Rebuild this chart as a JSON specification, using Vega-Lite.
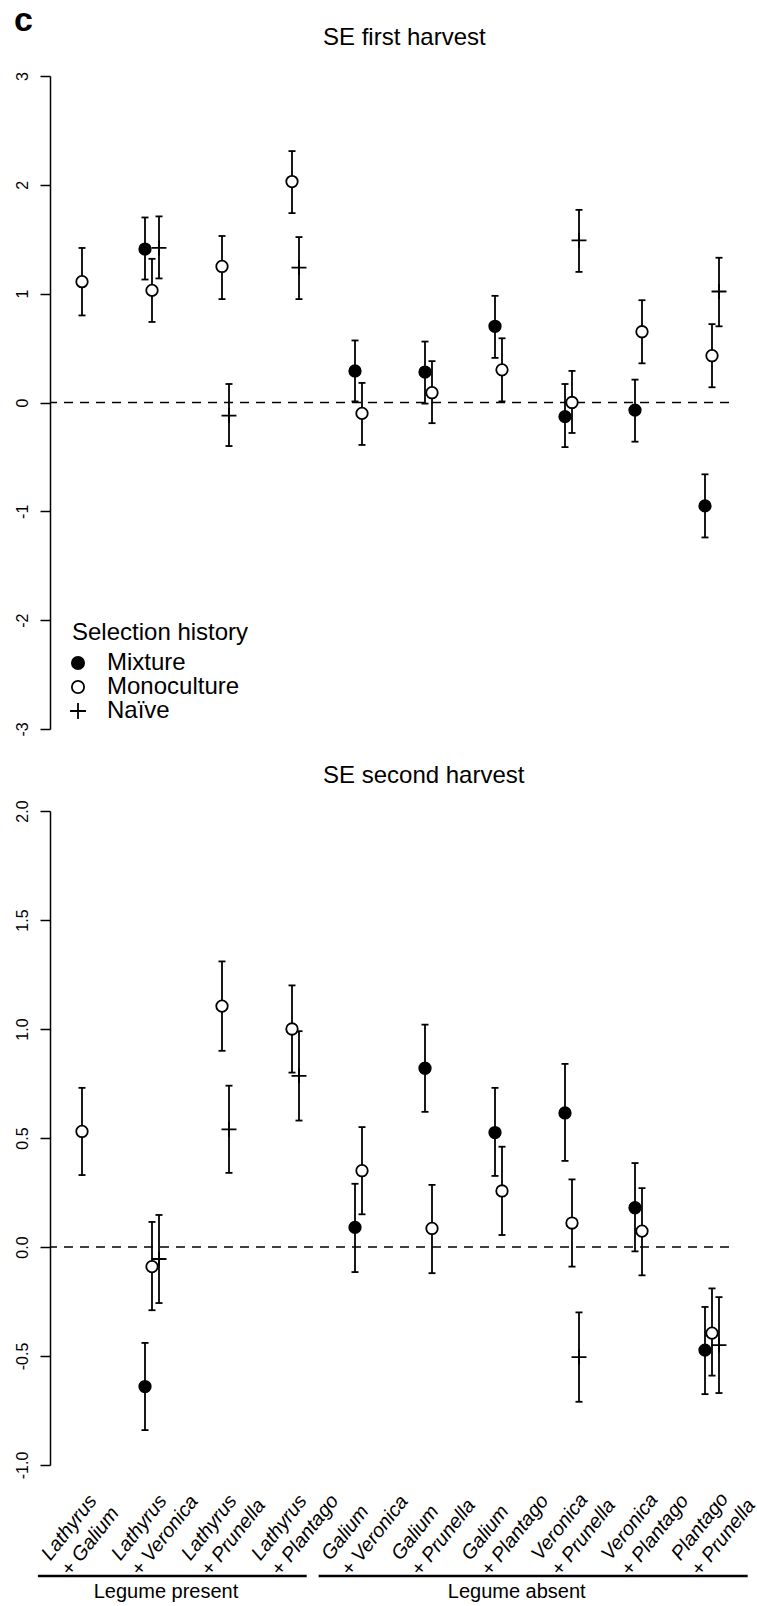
{
  "$schema": "https://vega.github.io/schema/vega-lite/v6.json",
  "background": "white",
  "padding": {"left": 14, "top": 3, "right": 0, "bottom": 0},
  "title": {"text": "c", "anchor": "start", "frame": "bounds", "fontSize": 34, "fontWeight": "bold", "baseline": "alphabetic", "offset": -39},
  "config": {
    "font": "Liberation Sans",
    "view": {"stroke": null},
    "title": {"fontSize": 24, "fontWeight": "normal", "color": "black", "font": "Liberation Sans"},
    "axis": {"labelColor": "black", "domainColor": "black", "tickColor": "black", "grid": false, "labelFont": "Liberation Sans"}
  },
  "datasets": {
    "est": [
      {"harvest": "first", "combo": "Lathyrus + Galium", "selection": "Monoculture", "est": 1.11, "lo": 0.80, "hi": 1.42},
      {"harvest": "first", "combo": "Lathyrus + Veronica", "selection": "Mixture", "est": 1.41, "lo": 1.13, "hi": 1.70},
      {"harvest": "first", "combo": "Lathyrus + Veronica", "selection": "Monoculture", "est": 1.03, "lo": 0.74, "hi": 1.32},
      {"harvest": "first", "combo": "Lathyrus + Veronica", "selection": "Naïve", "est": 1.42, "lo": 1.14, "hi": 1.71},
      {"harvest": "first", "combo": "Lathyrus + Prunella", "selection": "Monoculture", "est": 1.25, "lo": 0.95, "hi": 1.53},
      {"harvest": "first", "combo": "Lathyrus + Prunella", "selection": "Naïve", "est": -0.12, "lo": -0.40, "hi": 0.17},
      {"harvest": "first", "combo": "Lathyrus + Plantago", "selection": "Monoculture", "est": 2.03, "lo": 1.74, "hi": 2.31},
      {"harvest": "first", "combo": "Lathyrus + Plantago", "selection": "Naïve", "est": 1.24, "lo": 0.95, "hi": 1.52},
      {"harvest": "first", "combo": "Galium + Veronica", "selection": "Mixture", "est": 0.29, "lo": 0.01, "hi": 0.57},
      {"harvest": "first", "combo": "Galium + Veronica", "selection": "Monoculture", "est": -0.10, "lo": -0.39, "hi": 0.18},
      {"harvest": "first", "combo": "Galium + Prunella", "selection": "Mixture", "est": 0.28, "lo": -0.01, "hi": 0.56},
      {"harvest": "first", "combo": "Galium + Prunella", "selection": "Monoculture", "est": 0.09, "lo": -0.19, "hi": 0.38},
      {"harvest": "first", "combo": "Galium + Plantago", "selection": "Mixture", "est": 0.70, "lo": 0.41, "hi": 0.98},
      {"harvest": "first", "combo": "Galium + Plantago", "selection": "Monoculture", "est": 0.30, "lo": 0.01, "hi": 0.59},
      {"harvest": "first", "combo": "Veronica + Prunella", "selection": "Mixture", "est": -0.13, "lo": -0.41, "hi": 0.17},
      {"harvest": "first", "combo": "Veronica + Prunella", "selection": "Monoculture", "est": 0.00, "lo": -0.28, "hi": 0.29},
      {"harvest": "first", "combo": "Veronica + Prunella", "selection": "Naïve", "est": 1.49, "lo": 1.20, "hi": 1.77},
      {"harvest": "first", "combo": "Veronica + Plantago", "selection": "Mixture", "est": -0.07, "lo": -0.36, "hi": 0.21},
      {"harvest": "first", "combo": "Veronica + Plantago", "selection": "Monoculture", "est": 0.65, "lo": 0.36, "hi": 0.94},
      {"harvest": "first", "combo": "Plantago + Prunella", "selection": "Mixture", "est": -0.95, "lo": -1.24, "hi": -0.66},
      {"harvest": "first", "combo": "Plantago + Prunella", "selection": "Monoculture", "est": 0.43, "lo": 0.14, "hi": 0.72},
      {"harvest": "first", "combo": "Plantago + Prunella", "selection": "Naïve", "est": 1.02, "lo": 0.70, "hi": 1.33},
      {"harvest": "second", "combo": "Lathyrus + Galium", "selection": "Monoculture", "est": 0.53, "lo": 0.33, "hi": 0.73},
      {"harvest": "second", "combo": "Lathyrus + Veronica", "selection": "Mixture", "est": -0.64, "lo": -0.84, "hi": -0.44},
      {"harvest": "second", "combo": "Lathyrus + Veronica", "selection": "Monoculture", "est": -0.09, "lo": -0.29, "hi": 0.115},
      {"harvest": "second", "combo": "Lathyrus + Veronica", "selection": "Naïve", "est": -0.055, "lo": -0.257, "hi": 0.147},
      {"harvest": "second", "combo": "Lathyrus + Prunella", "selection": "Monoculture", "est": 1.105, "lo": 0.90, "hi": 1.31},
      {"harvest": "second", "combo": "Lathyrus + Prunella", "selection": "Naïve", "est": 0.54, "lo": 0.34, "hi": 0.74},
      {"harvest": "second", "combo": "Lathyrus + Plantago", "selection": "Monoculture", "est": 1.00, "lo": 0.80, "hi": 1.20},
      {"harvest": "second", "combo": "Lathyrus + Plantago", "selection": "Naïve", "est": 0.785, "lo": 0.58, "hi": 0.99},
      {"harvest": "second", "combo": "Galium + Veronica", "selection": "Mixture", "est": 0.09, "lo": -0.115, "hi": 0.29},
      {"harvest": "second", "combo": "Galium + Veronica", "selection": "Monoculture", "est": 0.35, "lo": 0.15, "hi": 0.55},
      {"harvest": "second", "combo": "Galium + Prunella", "selection": "Mixture", "est": 0.82, "lo": 0.62, "hi": 1.02},
      {"harvest": "second", "combo": "Galium + Prunella", "selection": "Monoculture", "est": 0.085, "lo": -0.12, "hi": 0.285},
      {"harvest": "second", "combo": "Galium + Plantago", "selection": "Mixture", "est": 0.525, "lo": 0.326, "hi": 0.73},
      {"harvest": "second", "combo": "Galium + Plantago", "selection": "Monoculture", "est": 0.257, "lo": 0.055, "hi": 0.46},
      {"harvest": "second", "combo": "Veronica + Prunella", "selection": "Mixture", "est": 0.615, "lo": 0.395, "hi": 0.84},
      {"harvest": "second", "combo": "Veronica + Prunella", "selection": "Monoculture", "est": 0.11, "lo": -0.09, "hi": 0.31},
      {"harvest": "second", "combo": "Veronica + Prunella", "selection": "Naïve", "est": -0.505, "lo": -0.71, "hi": -0.30},
      {"harvest": "second", "combo": "Veronica + Plantago", "selection": "Mixture", "est": 0.18, "lo": -0.02, "hi": 0.385},
      {"harvest": "second", "combo": "Veronica + Plantago", "selection": "Monoculture", "est": 0.073, "lo": -0.13, "hi": 0.27},
      {"harvest": "second", "combo": "Plantago + Prunella", "selection": "Mixture", "est": -0.473, "lo": -0.675, "hi": -0.275},
      {"harvest": "second", "combo": "Plantago + Prunella", "selection": "Monoculture", "est": -0.395, "lo": -0.59, "hi": -0.19},
      {"harvest": "second", "combo": "Plantago + Prunella", "selection": "Naïve", "est": -0.45, "lo": -0.67, "hi": -0.23}
    ],
    "groups": [
      {"group": "Legume present", "from": 0.37, "to": 4.21, "at": 2.2},
      {"group": "Legume absent", "from": 4.38, "to": 10.51, "at": 7.21}
    ]
  },
  "bounds": "flush",
  "spacing": 82,
  "vconcat": [
    {
      "width": 679,
      "height": 653,
      "title": {"text": "SE first harvest", "anchor": "start", "frame": "group", "dx": 273, "offset": 3, "baseline": "alphabetic"},
      "layer": [
        {
          "data": {"values": [{}]},
          "mark": {"type": "rule", "strokeDash": [9, 7], "strokeWidth": 1.5, "color": "black"},
          "encoding": {
            "y": {"datum": 0, "type": "quantitative", "scale": {"domain": [-3, 3], "nice": false, "zero": false},
              "axis": {"title": null, "values": [-3, -2, -1, 0, 1, 2, 3], "labelExpr": "replace(format(datum.value, 'd'), '\u2212', '-')", "labelAngle": -90, "labelAlign": "center", "labelBaseline": "alphabetic", "labelFontSize": 16, "labelPadding": 13, "tickSize": 10, "tickWidth": 1.5, "domainWidth": 1.5, "labelFlush": false, "labelOverlap": false, "labelBound": false}}
          }
        },
        {
          "data": {"name": "est"},
          "transform": [{"filter": "datum.harvest === 'first'"}],
          "encoding": {
            "x": {"field": "combo", "type": "nominal", "axis": null, "sort": ["Lathyrus + Galium", "Lathyrus + Veronica", "Lathyrus + Prunella", "Lathyrus + Plantago", "Galium + Veronica", "Galium + Prunella", "Galium + Plantago", "Veronica + Prunella", "Veronica + Plantago", "Plantago + Prunella"], "scale": {"type": "point", "padding": 0.35, "align": 0.653}},
            "xOffset": {"field": "selection", "type": "nominal", "scale": {"type": "point", "domain": ["Mixture", "Monoculture", "Naïve"], "range": [-7, 7], "padding": 0}}
          },
          "layer": [
            {
              "mark": {"type": "rule", "strokeWidth": 1.8, "color": "black"},
              "encoding": {"y": {"field": "lo", "type": "quantitative", "title": null}, "y2": {"field": "hi"}}
            },
            {
              "mark": {"type": "tick", "size": 7, "thickness": 1.8, "color": "black", "opacity": 1},
              "encoding": {"y": {"field": "lo", "type": "quantitative", "title": null}}
            },
            {
              "mark": {"type": "tick", "size": 7, "thickness": 1.8, "color": "black", "opacity": 1},
              "encoding": {"y": {"field": "hi", "type": "quantitative", "title": null}}
            },
            {
              "mark": {"type": "point", "filled": true, "size": 132, "strokeWidth": 1.8, "opacity": 1},
              "encoding": {
                "y": {"field": "est", "type": "quantitative", "title": null},
                "shape": {"field": "selection", "type": "nominal", "scale": {"domain": ["Mixture", "Monoculture", "Naïve"], "range": ["circle", "circle", "M-1.3,0H1.3M0,-1.3V1.3"]},
                  "legend": {"title": "Selection history", "orient": "none", "legendX": 22, "legendY": 545, "titleFontSize": 24, "titleFontWeight": "normal", "titleColor": "black", "labelFontSize": 24, "labelColor": "black", "symbolSize": 150, "symbolStrokeWidth": 1.8, "symbolOffset": -6, "labelOffset": 17, "rowPadding": 0, "titlePadding": 6, "padding": 0}},
                "fill": {"field": "selection", "type": "nominal", "scale": {"domain": ["Mixture", "Monoculture", "Naïve"], "range": ["black", "white", "transparent"]},
                  "legend": {"title": "Selection history", "orient": "none", "legendX": 22, "legendY": 545, "titleFontSize": 24, "titleFontWeight": "normal", "titleColor": "black", "labelFontSize": 24, "labelColor": "black", "symbolSize": 150, "symbolStrokeWidth": 1.8, "symbolOffset": -6, "labelOffset": 17, "rowPadding": 0, "titlePadding": 6, "padding": 0}},
                "stroke": {"field": "selection", "type": "nominal", "scale": {"domain": ["Mixture", "Monoculture", "Naïve"], "range": ["black", "black", "black"]},
                  "legend": {"title": "Selection history", "orient": "none", "legendX": 22, "legendY": 545, "titleFontSize": 24, "titleFontWeight": "normal", "titleColor": "black", "labelFontSize": 24, "labelColor": "black", "symbolSize": 150, "symbolStrokeWidth": 1.8, "symbolOffset": -6, "labelOffset": 17, "rowPadding": 0, "titlePadding": 6, "padding": 0}}
              }
            }
          ]
        }
      ]
    },
    {
      "bounds": "flush",
      "spacing": 110,
      "vconcat": [
        {
          "width": 679,
          "height": 654,
          "title": {"text": "SE second harvest", "anchor": "start", "frame": "group", "dx": 273, "offset": -7, "baseline": "alphabetic"},
          "layer": [
            {
              "data": {"values": [{}]},
              "mark": {"type": "rule", "strokeDash": [9, 7], "strokeWidth": 1.5, "color": "black"},
              "encoding": {
                "y": {"datum": 0, "type": "quantitative", "scale": {"domain": [-1, 2], "nice": false, "zero": false},
                  "axis": {"title": null, "values": [-1, -0.5, 0, 0.5, 1, 1.5, 2], "labelExpr": "replace(format(datum.value, '.1f'), '\u2212', '-')", "labelAngle": -90, "labelAlign": "center", "labelBaseline": "alphabetic", "labelFontSize": 16, "labelPadding": 13, "tickSize": 10, "tickWidth": 1.5, "domainWidth": 1.5, "labelFlush": false, "labelOverlap": false, "labelBound": false}}
              }
            },
            {
              "data": {"name": "est"},
              "transform": [{"filter": "datum.harvest === 'second'"}],
              "encoding": {
                "x": {"field": "combo", "type": "nominal", "title": null, "sort": ["Lathyrus + Galium", "Lathyrus + Veronica", "Lathyrus + Prunella", "Lathyrus + Plantago", "Galium + Veronica", "Galium + Prunella", "Galium + Plantago", "Veronica + Prunella", "Veronica + Plantago", "Plantago + Prunella"], "scale": {"type": "point", "padding": 0.35, "align": 0.653},
                  "axis": {"title": null, "domain": false, "ticks": false, "tickSize": 0, "labelAngle": -52, "labelAlign": "left", "labelBaseline": "alphabetic", "labelFontSize": 20, "labelFontStyle": "italic", "labelLineHeight": 25, "labelPadding": 96, "labelOffset": -32, "labelOverlap": false, "labelBound": false, "labelFlush": false, "labelExpr": "[slice(datum.label, 0, indexof(datum.label, ' + ')), slice(datum.label, indexof(datum.label, ' + ') + 1)]"}},
                "xOffset": {"field": "selection", "type": "nominal", "scale": {"type": "point", "domain": ["Mixture", "Monoculture", "Naïve"], "range": [-7, 7], "padding": 0}}
              },
              "layer": [
                {
                  "mark": {"type": "rule", "strokeWidth": 1.8, "color": "black"},
                  "encoding": {"y": {"field": "lo", "type": "quantitative", "title": null}, "y2": {"field": "hi"}}
                },
                {
                  "mark": {"type": "tick", "size": 7, "thickness": 1.8, "color": "black", "opacity": 1},
                  "encoding": {"y": {"field": "lo", "type": "quantitative", "title": null}}
                },
                {
                  "mark": {"type": "tick", "size": 7, "thickness": 1.8, "color": "black", "opacity": 1},
                  "encoding": {"y": {"field": "hi", "type": "quantitative", "title": null}}
                },
                {
                  "mark": {"type": "point", "filled": true, "size": 132, "stroke": "black", "strokeWidth": 1.8, "opacity": 1},
                  "encoding": {
                    "y": {"field": "est", "type": "quantitative", "title": null},
                    "shape": {"field": "selection", "type": "nominal", "scale": {"domain": ["Mixture", "Monoculture", "Naïve"], "range": ["circle", "circle", "M-1.3,0H1.3M0,-1.3V1.3"]}, "legend": null},
                    "fill": {"field": "selection", "type": "nominal", "scale": {"domain": ["Mixture", "Monoculture", "Naïve"], "range": ["black", "white", "transparent"]}, "legend": null}
                  }
                }
              ]
            }
          ]
        },
        {
          "width": 679,
          "height": 2,
          "data": {"name": "groups"},
          "layer": [
            {
              "mark": {"type": "rule", "strokeWidth": 2.5, "color": "black"},
              "encoding": {
                "x": {"field": "from", "type": "quantitative", "axis": null, "scale": {"domain": [0.5429, 10.2429], "nice": false, "zero": false}},
                "x2": {"field": "to"}
              }
            },
            {
              "mark": {"type": "text", "fontSize": 20, "baseline": "top", "align": "center", "dy": 6, "color": "black"},
              "encoding": {
                "x": {"field": "at", "type": "quantitative", "axis": null},
                "text": {"field": "group"}
              }
            }
          ]
        }
      ]
    }
  ]
}
